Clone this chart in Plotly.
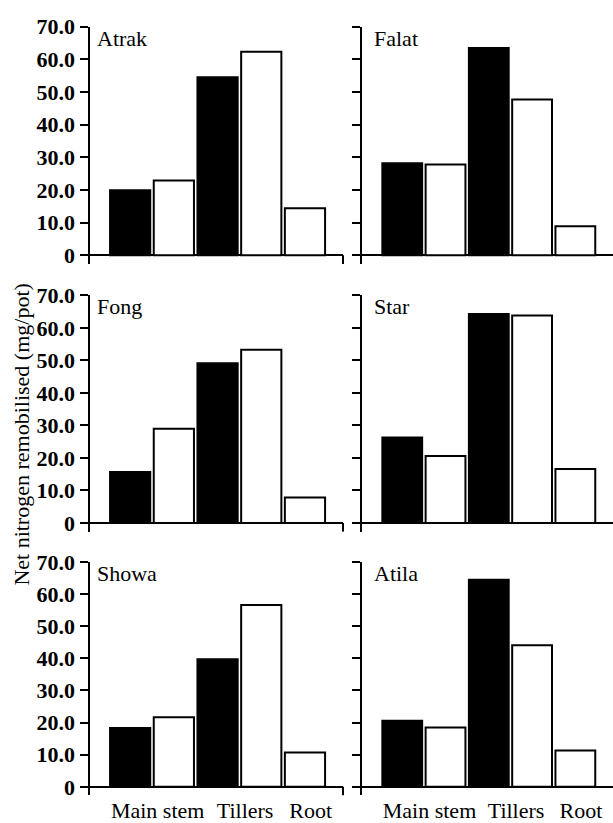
import plotly.graph_objects as go

# Cultivars, one panel each (row by row, left to right)
cultivars = ["Atrak", "Falat", "Fong", "Star", "Showa", "Atila"]
parts = ["Main stem", "Tillers", "Root"]

# Net N remobilised (mg/pot); black bars exist for Main stem and Tillers only
atrak_black = [19.9, 54.5]
atrak_white = [22.9, 62.3, 14.4]
falat_black = [28.2, 63.5]
falat_white = [27.8, 47.7, 8.9]
fong_black = [15.7, 49.1]
fong_white = [29.0, 53.3, 7.8]
star_black = [26.3, 64.3]
star_white = [20.6, 63.8, 16.6]
showa_black = [18.3, 39.7]
showa_white = [21.7, 56.6, 10.7]
atila_black = [20.6, 64.5]
atila_white = [18.5, 44.1, 11.3]

y_ticks = [0, 10, 20, 30, 40, 50, 60, 70]
y_ticktext = ["0", "10.0", "20.0", "30.0", "40.0", "50.0", "60.0", "70.0"]

black_series = [atrak_black, falat_black, fong_black, star_black, showa_black, atila_black]
white_series = [atrak_white, falat_white, fong_white, star_white, showa_white, atila_white]

FONT = "'Liberation Serif', 'Times New Roman', 'DejaVu Serif', serif"
W, H = 613, 823
Y_MIN, Y_MAX = -2.7, 70
X_MIN, X_MAX = -0.93, 4.87
BAR_W = 0.92

# panel geometry in pixels
col_px = [(89.5, 343.0), (362.0, 613.0)]
row_px = [(15.0, 257.0), (289.0, 530.0), (561.0, 799.0)]
label_shift = [5, 10]


def slots(n_black, n_parts):
    """Assign adjacent bar slots: black then white for paired parts, white alone after."""
    bx, wx, centers = [], [], []
    s = 0
    for j in range(n_parts):
        start = s
        if j < n_black:
            bx.append(s)
            s += 1
        wx.append(s)
        s += 1
        centers.append((start + s - 1) / 2)
    return bx, wx, centers


fig = go.Figure()
shapes, annotations = [], []

for i, name in enumerate(cultivars):
    r, c = divmod(i, 2)
    n = i + 1
    xa = "x" if n == 1 else f"x{n}"
    ya = "y" if n == 1 else f"y{n}"
    bx, wx, centers = slots(len(black_series[i]), len(parts))

    fig.add_trace(go.Bar(
        x=bx, y=black_series[i], width=BAR_W, xaxis=xa, yaxis=ya,
        marker=dict(color="black", line=dict(color="black", width=2)),
        showlegend=False, hoverinfo="y"))
    fig.add_trace(go.Bar(
        x=wx, y=white_series[i], width=BAR_W, xaxis=xa, yaxis=ya,
        marker=dict(color="white", line=dict(color="black", width=2)),
        showlegend=False, hoverinfo="y"))

    x0p, x1p = col_px[c]
    t, b = row_px[r]
    xdom = [x0p / W, min(x1p / W, 1.0)]
    ydom = [1 - b / H, 1 - t / H]
    bottom = r == 2

    fig.update_layout(**{
        ("xaxis" if n == 1 else f"xaxis{n}"): dict(
            domain=xdom, anchor=ya, range=[X_MIN, X_MAX],
            showgrid=False, zeroline=False, showline=False, ticks="",
            tickvals=[p + 0.13 for p in centers], ticktext=parts,
            showticklabels=bottom,
            tickfont=dict(family=FONT, size=22, color="black"),
            fixedrange=True),
        ("yaxis" if n == 1 else f"yaxis{n}"): dict(
            domain=ydom, anchor=xa, range=[Y_MIN, Y_MAX],
            showgrid=False, zeroline=True, zerolinecolor="black", zerolinewidth=2,
            showline=True, linecolor="black", linewidth=2,
            ticks="outside", ticklen=8, tickwidth=2, tickcolor="black",
            tickvals=y_ticks, ticktext=y_ticktext,
            showticklabels=(c == 0),
            tickfont=dict(family=FONT, size=22, color="black", weight="bold"),
            fixedrange=True),
    })

    # downward end tick at the right end of the x axis
    if c == 0:
        shapes.append(dict(type="line", xref=f"{xa} domain", yref=ya,
                           x0=1, x1=1, y0=Y_MIN, y1=0,
                           line=dict(color="black", width=2)))

    annotations.append(dict(
        text=name, xref=f"{xa} domain", yref=f"{ya} domain",
        x=0, y=1, xanchor="left", yanchor="top",
        xshift=label_shift[c], yshift=3, showarrow=False,
        font=dict(family=FONT, size=22, color="black")))

annotations.append(dict(
    text="Net nitrogen remobilised (mg/pot)", xref="paper", yref="paper",
    x=22 / W, y=1 - 431 / H, xanchor="center", yanchor="middle",
    textangle=-90, showarrow=False,
    font=dict(family=FONT, size=22, color="black")))

fig.update_layout(
    width=W, height=H, margin=dict(l=0, r=0, t=0, b=0),
    paper_bgcolor="white", plot_bgcolor="white",
    barmode="overlay", showlegend=False,
    shapes=shapes, annotations=annotations,
)

fig.write_html("out.html")
